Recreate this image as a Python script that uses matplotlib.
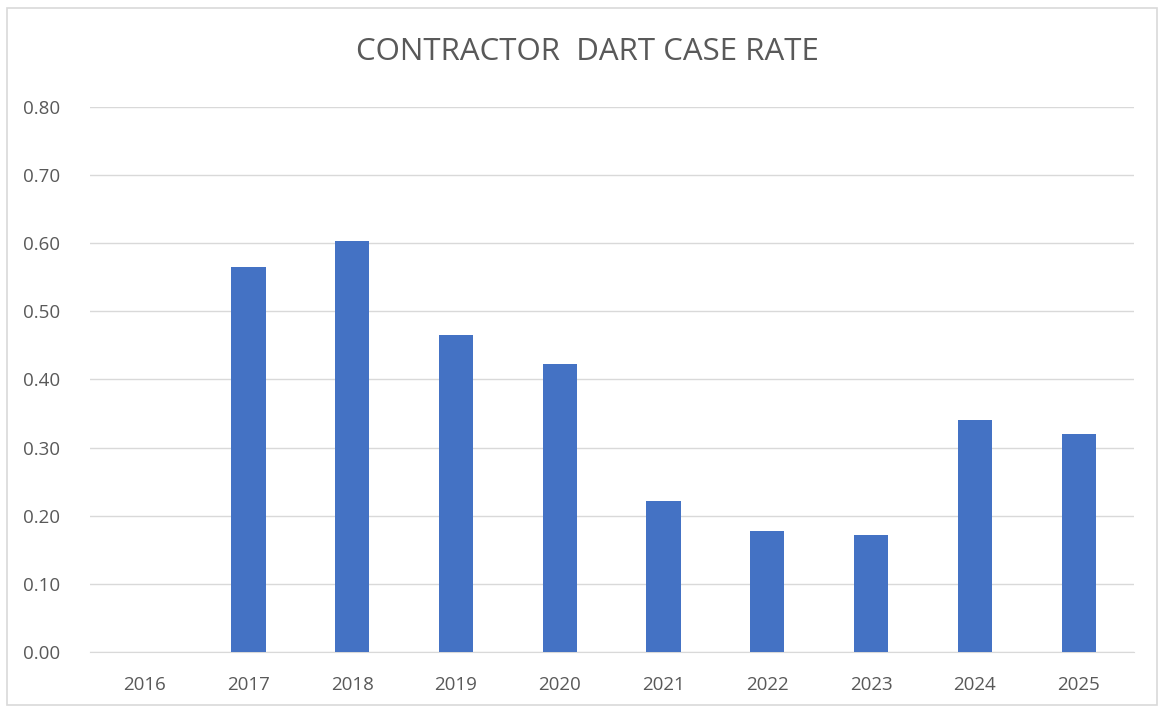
import matplotlib.pyplot as plt
from matplotlib.patches import Rectangle

years = ['2016', '2017', '2018', '2019', '2020', '2021', '2022', '2023', '2024', '2025']
rates = [0.0, 0.565, 0.604, 0.466, 0.423, 0.221, 0.178, 0.172, 0.341, 0.320]
yticks = [0.0, 0.1, 0.2, 0.3, 0.4, 0.5, 0.6, 0.7, 0.8]

plt.rcParams['font.family'] = ['Open Sans', 'DejaVu Sans']

fig = plt.figure(figsize=(11.64, 7.11), dpi=100)
ax = fig.add_axes([0.077, 0.083, 0.897, 0.7665])

# chart frame
fig.patches.append(Rectangle((7/1164, 6/711), 1150/1164, 697/711, transform=fig.transFigure,
                             fill=False, edgecolor='#d9d9d9', linewidth=1.2))

ax.bar(range(len(years)), rates, width=0.33, color='#4472c4', zorder=3)

ax.set_ylim(0, 0.8)
ax.set_xlim(-0.53, len(years) - 0.47)
ax.set_yticks(yticks)
ax.set_yticklabels(['%.2f' % v for v in yticks])
ax.set_xticks(range(len(years)))
ax.set_xticklabels(years)
ax.yaxis.grid(True, color='#d9d9d9', linewidth=1, zorder=0)
ax.tick_params(axis='both', length=0, labelsize=13.5, colors='#595959', pad=17)
ax.tick_params(axis='y', pad=21)
for s in ['top', 'right', 'left']:
    ax.spines[s].set_visible(False)
ax.spines['bottom'].set_color('#d9d9d9')

fig.text(0.505, 0.927, 'CONTRACTOR  DART CASE RATE', ha='center', va='center',
         fontsize=22.5, color='#595959')

fig.savefig('out.png', dpi=100)
